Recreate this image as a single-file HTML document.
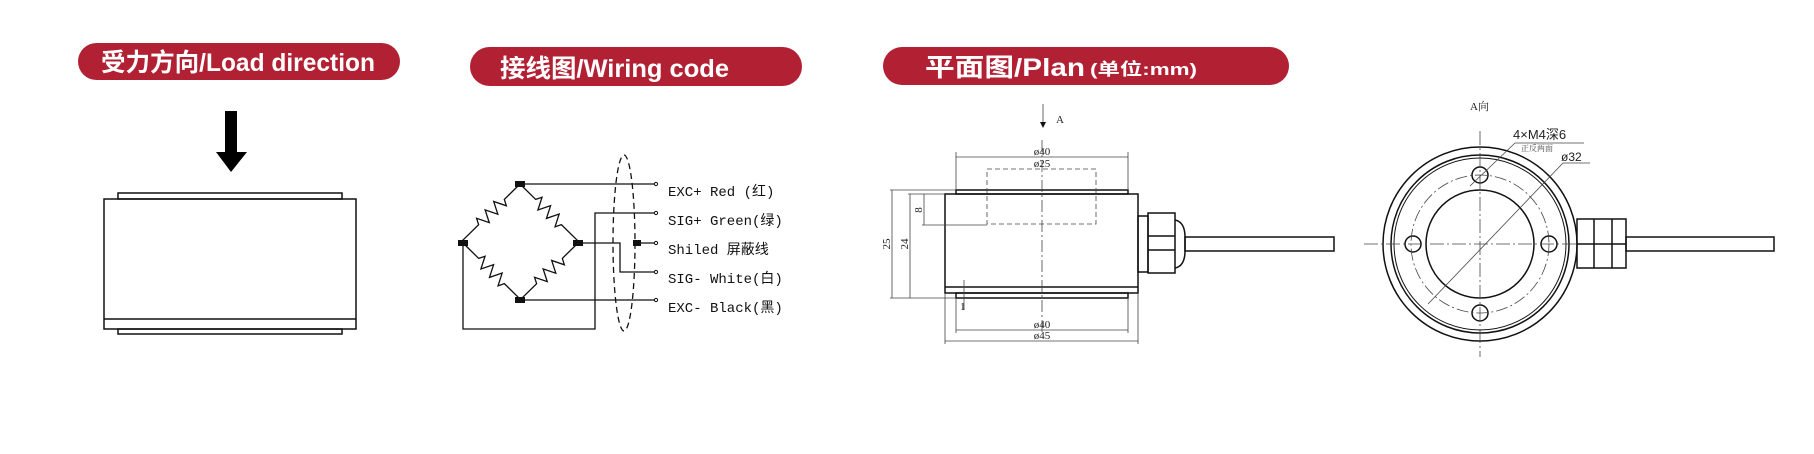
<!DOCTYPE html>
<html><head><meta charset="utf-8"><style>
html,body{margin:0;padding:0;background:#fff;}
svg{display:block;}
.t{font-family:"Liberation Sans","Noto Sans CJK SC",sans-serif;font-weight:bold;fill:#fff;}
.lab{font-family:"Liberation Mono","Noto Sans CJK SC",monospace;font-size:14px;fill:#111;}
.dim{font-family:"Liberation Serif","Noto Serif CJK SC",serif;font-size:11px;fill:#222;}
</style></head><body>
<svg width="1814" height="454" viewBox="0 0 1814 454" xmlns="http://www.w3.org/2000/svg">
<!-- headers -->
<rect x="78" y="43" width="322" height="37" rx="18.5" fill="#b22133"/>
<text class="t" x="101" y="71" font-size="25" textLength="274" lengthAdjust="spacingAndGlyphs">受力方向/Load direction</text>
<rect x="470" y="47" width="332" height="39" rx="19.5" fill="#b22133"/>
<text class="t" x="500" y="77" font-size="25" textLength="229" lengthAdjust="spacingAndGlyphs">接线图/Wiring code</text>
<rect x="883" y="47" width="406" height="38" rx="19" fill="#b22133"/>
<text class="t" x="925" y="76" font-size="25" textLength="160" lengthAdjust="spacingAndGlyphs">平面图/Plan</text>
<text class="t" x="1090" y="75" font-size="17" textLength="107" lengthAdjust="spacingAndGlyphs">(单位:mm)</text>

<!-- load direction -->
<rect x="225" y="111" width="12" height="42" fill="#000"/>
<polygon points="216,152 247,152 231,172" fill="#000"/>
<g fill="none" stroke="#111" stroke-width="1.5">
<rect x="118" y="193" width="224" height="6"/>
<rect x="104" y="199" width="252" height="130"/>
<line x1="104" y1="319" x2="356" y2="319"/>
<rect x="118" y="329" width="224" height="5"/>
</g>

<!-- wiring -->
<g fill="none" stroke="#111" stroke-width="1.3">
<path transform="translate(520,184) rotate(135.5)" d="M0 0 L22 0 l3 -6 l6 12 l6 -12 l6 12 l6 -12 l6 12 l3 -6 L83 0"/>
<path transform="translate(520,184) rotate(44.5)" d="M0 0 L22 0 l3 -6 l6 12 l6 -12 l6 12 l6 -12 l6 12 l3 -6 L83 0"/>
<path transform="translate(463,243) rotate(44.5)" d="M0 0 L22 0 l3 -6 l6 12 l6 -12 l6 12 l6 -12 l6 12 l3 -6 L83 0"/>
<path transform="translate(578,243) rotate(135.5)" d="M0 0 L22 0 l3 -6 l6 12 l6 -12 l6 12 l6 -12 l6 12 l3 -6 L83 0"/>
<line x1="520" y1="184" x2="655" y2="184"/>
<polyline points="655,213 595,213 595,329 463,329 463,243"/>
<polyline points="578,243 620,243 620,272 655,272"/>
<line x1="636" y1="243" x2="655" y2="243"/>
<line x1="520" y1="300" x2="655" y2="300"/>
<ellipse cx="624" cy="243" rx="11" ry="88" stroke-dasharray="6,4"/>
</g>
<g fill="#111">
<rect x="515" y="181" width="10" height="6"/><rect x="458" y="240" width="10" height="6"/>
<rect x="573" y="240" width="10" height="6"/><rect x="515" y="297" width="10" height="6"/>
<rect x="633" y="240" width="8" height="6"/>
</g>
<g fill="#fff" stroke="#111" stroke-width="1">
<circle cx="656" cy="184" r="1.6"/><circle cx="656" cy="213" r="1.6"/><circle cx="656" cy="243" r="1.6"/><circle cx="656" cy="272" r="1.6"/><circle cx="656" cy="300" r="1.6"/>
</g>
<text class="lab" x="668" y="196">EXC+ Red  (红)</text>
<text class="lab" x="668" y="225">SIG+ Green(绿)</text>
<text class="lab" x="668" y="254">Shiled  屏蔽线</text>
<text class="lab" x="668" y="283">SIG- White(白)</text>
<text class="lab" x="668" y="312">EXC- Black(黑)</text>

<!-- plan side view -->
<g fill="none" stroke="#111" stroke-width="1.5">
<rect x="956" y="190" width="172" height="4"/>
<rect x="945" y="194" width="193" height="99"/>
<line x1="945" y1="287" x2="1138" y2="287"/>
<rect x="956" y="293" width="172" height="5"/>
<rect x="1138" y="216" width="10" height="56"/>
<rect x="1148" y="213" width="27" height="60"/>
<line x1="1148" y1="236" x2="1175" y2="236"/><line x1="1148" y1="250" x2="1175" y2="250"/>
<path d="M1175 220 Q1185 222 1185 237 L1185 251 Q1185 266 1175 268"/>
<rect x="1185" y="237" width="149" height="14"/>
</g>
<g fill="none" stroke="#444" stroke-width="0.8">
<rect x="987" y="169" width="109" height="55" stroke-dasharray="5,3"/>
<line x1="1042" y1="140" x2="1042" y2="335" stroke-dasharray="12,3,2,3"/>
<line x1="1043" y1="104" x2="1043" y2="126"/>
<line x1="956" y1="157" x2="1128" y2="157"/>
<line x1="956" y1="152" x2="956" y2="190"/><line x1="1128" y1="152" x2="1128" y2="190"/>
<line x1="956" y1="298" x2="956" y2="333"/><line x1="1128" y1="298" x2="1128" y2="333"/>
<line x1="945" y1="293" x2="945" y2="344"/><line x1="1138" y1="293" x2="1138" y2="344"/>
<line x1="956" y1="330" x2="1128" y2="330"/>
<line x1="945" y1="341" x2="1138" y2="341"/>
<line x1="892" y1="190" x2="892" y2="298"/><line x1="910" y1="194" x2="910" y2="298"/>
<line x1="924" y1="194" x2="924" y2="225"/>
<line x1="890" y1="190" x2="956" y2="190"/><line x1="908" y1="194" x2="945" y2="194"/>
<line x1="922" y1="225" x2="987" y2="225"/><line x1="890" y1="298" x2="956" y2="298"/>
<line x1="964" y1="280" x2="964" y2="310"/>
</g>
<polygon points="1040,122 1046,122 1043,128" fill="#111"/>
<text class="dim" x="1056" y="123">A</text>
<text class="dim" x="1042" y="155" text-anchor="middle">ø40</text>
<text class="dim" x="1042" y="167" text-anchor="middle">ø25</text>
<text class="dim" x="1042" y="328" text-anchor="middle">ø40</text>
<text class="dim" x="1042" y="339" text-anchor="middle">ø45</text>
<text class="dim" x="960" y="310">1</text>
<text class="dim" transform="translate(890,244) rotate(-90)" text-anchor="middle" font-size="10">25</text>
<text class="dim" transform="translate(908,244) rotate(-90)" text-anchor="middle" font-size="10">24</text>
<text class="dim" transform="translate(922,210) rotate(-90)" text-anchor="middle" font-size="10">8</text>

<!-- A view -->
<text class="dim" x="1470" y="110" font-size="12">A向</text>
<g fill="none" stroke="#111" stroke-width="1.5">
<circle cx="1480" cy="244" r="97"/>
<circle cx="1480" cy="244" r="89"/>
<circle cx="1480" cy="244" r="86" stroke-width="1"/>
<circle cx="1480" cy="244" r="54"/>
<circle cx="1480" cy="175" r="8"/><circle cx="1480" cy="313" r="8"/>
<circle cx="1413" cy="244" r="8"/><circle cx="1549" cy="244" r="8"/>
<rect x="1577" y="219" width="49" height="49"/>
<line x1="1594" y1="219" x2="1594" y2="268"/><line x1="1612" y1="219" x2="1612" y2="268"/>
<line x1="1577" y1="244" x2="1626" y2="244"/>
<rect x="1626" y="237" width="148" height="14"/>
</g>
<g fill="none" stroke="#444" stroke-width="0.8">
<circle cx="1480" cy="244" r="69" stroke-dasharray="12,3,2,3"/>
<line x1="1364" y1="244" x2="1578" y2="244" stroke-dasharray="14,3,2,3"/>
<line x1="1480" y1="131" x2="1480" y2="357" stroke-dasharray="14,3,2,3"/>
<line x1="1428" y1="304" x2="1563" y2="163"/><line x1="1563" y1="163" x2="1590" y2="163"/>
<line x1="1470" y1="186" x2="1515" y2="143"/><line x1="1515" y1="143" x2="1584" y2="143"/>
</g>
<text x="1513" y="139" font-family="Liberation Sans,'Noto Sans CJK SC',sans-serif" font-size="13" fill="#222">4×M4深6</text>
<text x="1521" y="151" font-family="'Noto Serif CJK SC',serif" font-size="8" fill="#444">正反两面</text>
<text x="1561" y="161" font-family="Liberation Sans,sans-serif" font-size="12" fill="#222">ø32</text>
</svg>
</body></html>
